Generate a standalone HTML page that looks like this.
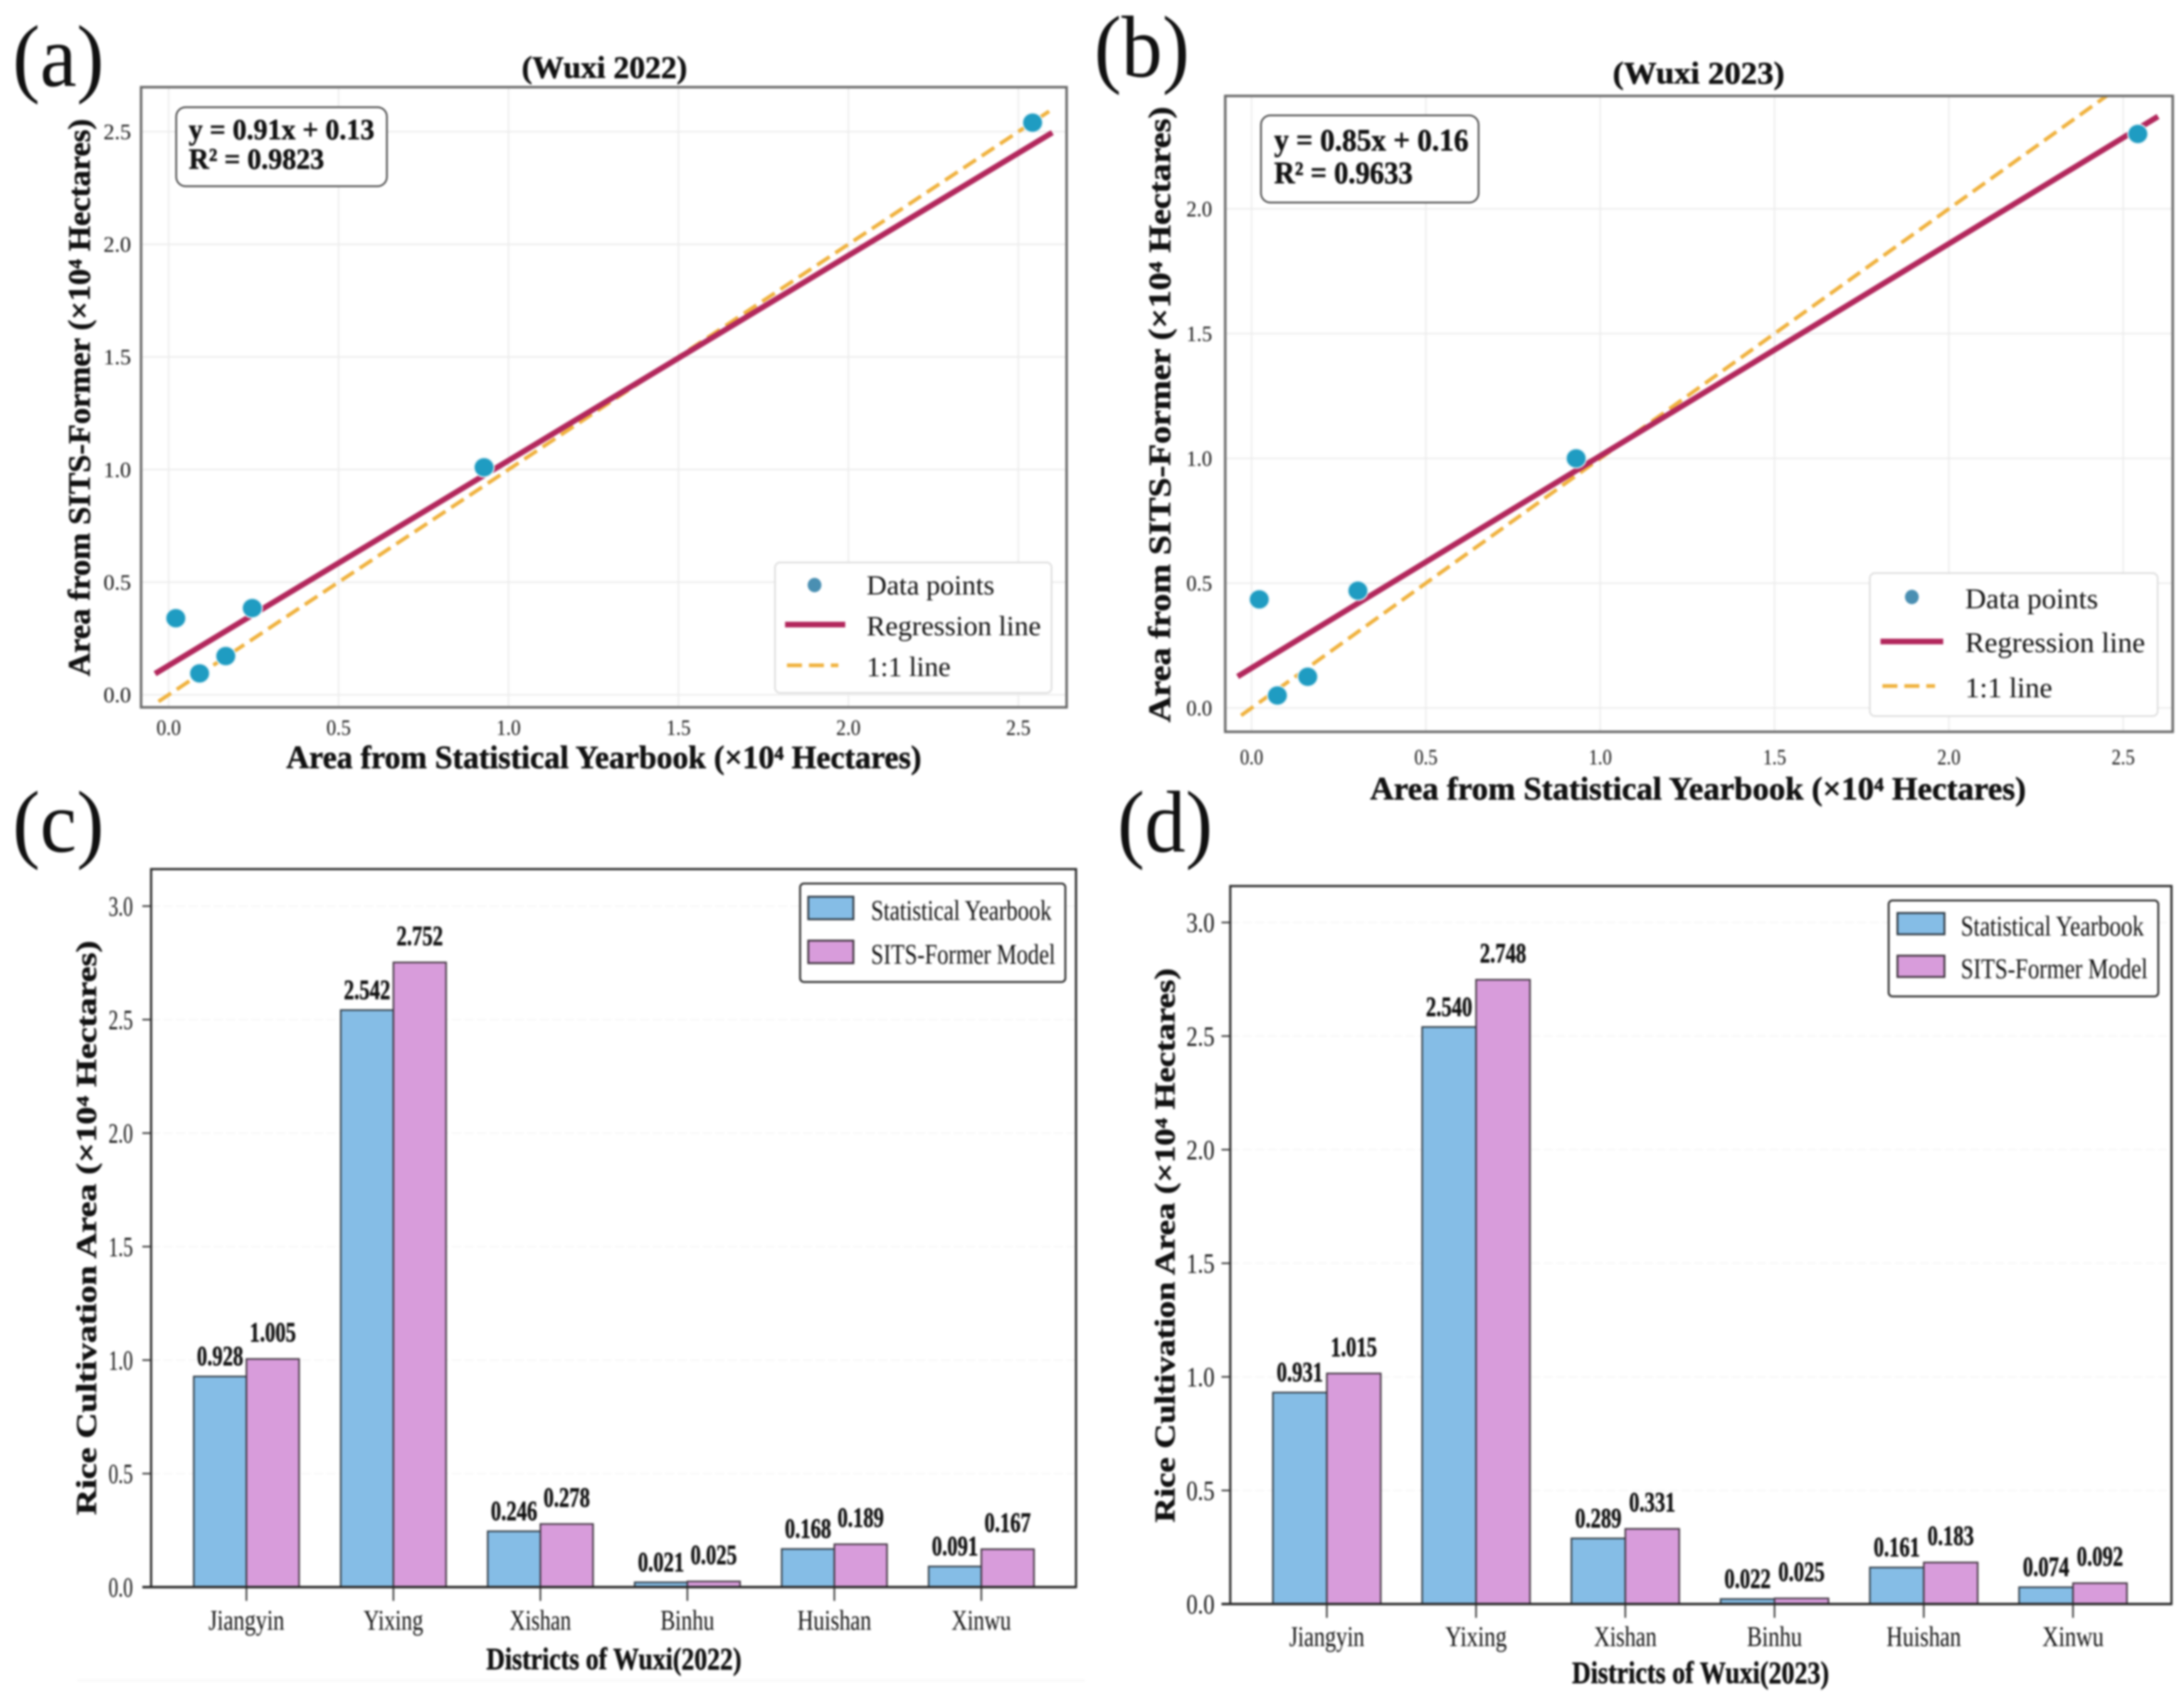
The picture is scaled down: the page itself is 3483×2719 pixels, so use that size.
<!DOCTYPE html>
<html lang="en">
<head>
<meta charset="utf-8">
<title>Wuxi rice cultivation area comparison</title>
<style>
html,body{margin:0;padding:0;background:#fff}
svg{display:block;filter:blur(1.6px)}
text{font-family:"Liberation Serif",serif;fill:#111}
text[font-weight="bold"]{stroke:#111;stroke-width:.7px}
</style>
</head>
<body>
<svg id="figure" xmlns="http://www.w3.org/2000/svg" width="3483" height="2719" viewBox="0 0 3483 2719">
  <defs>
    <clipPath id="clip-a"><rect x="225" y="139" width="1476" height="989"/></clipPath>
    <clipPath id="clip-b"><rect x="1954" y="153" width="1511" height="1014"/></clipPath>
  </defs>
  <rect x="0" y="0" width="3483" height="2719" fill="#fff"/>
  <line x1="123" y1="2680" x2="1730" y2="2680" stroke="#f7f7f7" stroke-width="3"/>
</svg>
<script>
// ---- Scatter data (×10⁴ hectares) ----
const scatterX2022 = [0.021, 0.091, 0.168, 0.246, 0.928, 2.542];
const scatterY2022 = [0.340, 0.095, 0.172, 0.385, 1.010, 2.540];
const scatterX2023 = [0.022, 0.074, 0.161, 0.305, 0.931, 2.542];
const scatterY2023 = [0.435, 0.050, 0.125, 0.470, 1.000, 2.300];
const fit2022 = [0.91, 0.13];
const fit2023 = [0.85, 0.16];
const fitRange = [-0.04, 2.6];
const identityRange = [-0.03, 2.6];
const stat2022 = ["y = 0.91x + 0.13", "R² = 0.9823"];
const stat2023 = ["y = 0.85x + 0.16", "R² = 0.9633"];
const scatterXTicks = [0, 0.5, 1, 1.5, 2, 2.5];
const scatterYTicks2022 = [0, 0.5, 1, 1.5, 2, 2.5];
const scatterYTicks2023 = [0, 0.5, 1, 1.5, 2];

// ---- Bar data (×10⁴ hectares) ----
const districts = ["Jiangyin", "Yixing", "Xishan", "Binhu", "Huishan", "Xinwu"];
const yearbook2022 = [0.928, 2.542, 0.246, 0.021, 0.168, 0.091];
const model2022 = [1.005, 2.752, 0.278, 0.025, 0.189, 0.167];
const yearbook2023 = [0.931, 2.540, 0.289, 0.022, 0.161, 0.074];
const model2023 = [1.015, 2.748, 0.331, 0.025, 0.183, 0.092];
const barYTicks = [0, 0.5, 1, 1.5, 2, 2.5, 3];
const legendScatter = ["Data points", "Regression line", "1:1 line"];
const legendBars = ["Statistical Yearbook", "SITS-Former Model"];

const NS = "http://www.w3.org/2000/svg";
const root = document.getElementById("figure");

function shape(parent, tag, name, attrs, interactable) {
  const el = document.createElementNS(NS, tag);
  for (const k in attrs) el.setAttribute(k, attrs[k]);
  
  
  parent.appendChild(el);
  return el;
}
function label(parent, name, str, x, y, o) {
  const a = {x: x, y: y, "font-size": o.size, "text-anchor": o.anchor || "start"};
  if (o.bold) a["font-weight"] = "bold";
  if (o.len) { a.textLength = o.len; a.lengthAdjust = "spacingAndGlyphs"; }
  if (o.rot) a.transform = "rotate(" + o.rot + " " + x + " " + y + ")";
  const el = shape(parent, "text", name, a, false);
  el.textContent = str;
  return el;
}
function group(name) {
  return shape(root, "g", name, {}, false);
}

function drawScatter(c, xs, ys, fit, yTicks, stat) {
  const g = group(c.id);
  const X = v => c.x0 + v * c.xu;
  const Y = v => c.y0 - v * c.yu;
  const f = c.frame;
  shape(g, "rect", "plot-area", {x: f[0], y: f[1], width: f[2] - f[0], height: f[3] - f[1], fill: "#fff"}, false);
  scatterXTicks.forEach(t => {
    shape(g, "line", "x-gridline", {x1: X(t), x2: X(t), y1: f[1], y2: f[3], stroke: "#ededed", "stroke-width": 2.5}, false);
    label(g, "x-tick-label", t.toFixed(1), X(t), c.xTickY, {size: 35, anchor: "middle", len: c.xTickW});
  });
  yTicks.forEach(t => {
    shape(g, "line", "y-gridline", {x1: f[0], x2: f[2], y1: Y(t), y2: Y(t), stroke: "#ededed", "stroke-width": 2.5}, false);
    label(g, "y-tick-label", t.toFixed(1), c.yTickR, Y(t) + 12, {size: 35, anchor: "end", len: c.yTickW});
  });
  const clip = shape(g, "g", "series-clip", {"clip-path": "url(#" + c.clip + ")"}, false);
  shape(clip, "line", "identity-line", {x1: X(identityRange[0]), y1: Y(identityRange[0]), x2: X(identityRange[1]), y2: Y(identityRange[1]), stroke: "#f0b23e", "stroke-width": 6, "stroke-dasharray": "24 11"}, false);
  shape(clip, "line", "regression-line", {x1: X(fitRange[0]), y1: Y(fit[0] * fitRange[0] + fit[1]), x2: X(fitRange[1]), y2: Y(fit[0] * fitRange[1] + fit[1]), stroke: "#b2275c", "stroke-width": 9}, false);
  xs.forEach((v, i) => {
    shape(clip, "ellipse", "data-point", {cx: X(v), cy: Y(ys[i]), rx: 16, ry: 15.5, fill: "#1f9cc2", stroke: "#e8f4f8", "stroke-width": 2}, false);
  });
  shape(g, "rect", "plot-frame", {x: f[0], y: f[1], width: f[2] - f[0], height: f[3] - f[1], fill: "none", stroke: "#6a6a6a", "stroke-width": 4}, false);
  label(g, "chart-title", c.title, c.titleX, c.titleY, {size: 50, bold: true, anchor: "middle", len: c.titleW});
  label(g, "x-axis-title", "Area from Statistical Yearbook (×10⁴ Hectares)", c.xlab[0], c.xlab[1], {size: 52, bold: true, anchor: "middle", len: c.xlab[2]});
  label(g, "y-axis-title", "Area from SITS-Former (×10⁴ Hectares)", c.ylab[0], c.ylab[1], {size: 50, bold: true, anchor: "middle", len: c.ylab[2], rot: -90});
  const s = c.stat;
  shape(g, "rect", "equation-box", {x: s.box[0], y: s.box[1], width: s.box[2] - s.box[0], height: s.box[3] - s.box[1], rx: 15, fill: "#fff", stroke: "#3a3a3a", "stroke-width": 2.5}, false);
  label(g, "equation-text", stat[0], s.x, s.y1, {size: s.size, bold: true, len: s.w1});
  label(g, "r-squared-text", stat[1], s.x, s.y2, {size: s.size, bold: true, len: s.w2});
  const l = c.legend;
  shape(g, "rect", "legend-box", {x: l.box[0], y: l.box[1], width: l.box[2] - l.box[0], height: l.box[3] - l.box[1], rx: 8, fill: "#fff", stroke: "#dcdcdc", "stroke-width": 2.5}, false);
  shape(g, "ellipse", "legend-marker-points", {cx: l.mx, cy: l.my, rx: 11, ry: 11.5, fill: "#4a8fb2"}, false);
  shape(g, "line", "legend-marker-regression", {x1: l.rl[0], x2: l.rl[1], y1: l.rl[2], y2: l.rl[2], stroke: "#b2275c", "stroke-width": 9}, false);
  shape(g, "line", "legend-marker-identity", {x1: l.dl[0], x2: l.dl[1], y1: l.dl[2], y2: l.dl[2], stroke: "#f0b23e", "stroke-width": 6, "stroke-dasharray": "24 11"}, false);
  legendScatter.forEach((t, i) => {
    label(g, "legend-entry", t, l.tx, l.ty[i], {size: l.size, len: l.tw[i]});
  });
}

function drawBars(c, a, b) {
  const g = group(c.id);
  const Y = v => c.y0 - v * c.yu;
  const X = i => c.cx0 + i * c.cs;
  const f = c.frame;
  barYTicks.forEach(t => {
    shape(g, "line", "y-gridline", {x1: f[0], x2: f[2], y1: Y(t), y2: Y(t), stroke: "#f7f7f7", "stroke-width": 2.5, "stroke-dasharray": "14 6"}, false);
    shape(g, "line", "y-tick", {x1: f[0] - 14, x2: f[0], y1: Y(t), y2: Y(t), stroke: "#333", "stroke-width": 2.5}, false);
    label(g, "y-tick-label", t.toFixed(1), c.yTickR, Y(t) + 15, {size: 44, anchor: "end", len: c.yTickW});
  });
  districts.forEach((d, i) => {
    const x = X(i);
    const h1 = a[i] * c.yu, h2 = b[i] * c.yu;
    shape(g, "rect", "bar-yearbook-" + d.toLowerCase(), {x: x - c.bw, y: c.y0 - h1, width: c.bw, height: h1, fill: "#85bde6", stroke: "#2f3a44", "stroke-width": 2.5}, false);
    shape(g, "rect", "bar-model-" + d.toLowerCase(), {x: x, y: c.y0 - h2, width: c.bw, height: h2, fill: "#d89cdb", stroke: "#40343f", "stroke-width": 2.5}, false);
    shape(g, "line", "x-tick", {x1: x, x2: x, y1: c.y0, y2: c.y0 + 22, stroke: "#333", "stroke-width": 2.5}, false);
    label(g, "x-tick-label", d, x, c.catY, {size: 46, anchor: "middle", len: c.catW[i]});
    label(g, "value-label-yearbook", a[i].toFixed(3), x - c.bw / 2, c.y0 - h1 - 18, {size: 44, bold: true, anchor: "middle", len: c.valW});
    label(g, "value-label-model", b[i].toFixed(3), x + c.bw / 2, c.y0 - h2 - 28, {size: 44, bold: true, anchor: "middle", len: c.valW});
  });
  shape(g, "rect", "plot-frame", {x: f[0], y: f[1], width: f[2] - f[0], height: f[3] - f[1], fill: "none", stroke: "#2a2a2a", "stroke-width": 3.5}, false);
  shape(g, "line", "zero-axis", {x1: f[0] - 14, x2: f[2], y1: c.y0, y2: c.y0, stroke: "#2a2a2a", "stroke-width": 4}, false);
  label(g, "x-axis-title", c.xlab[3], c.xlab[0], c.xlab[1], {size: 50, bold: true, anchor: "middle", len: c.xlab[2]});
  label(g, "y-axis-title", "Rice Cultivation Area (×10⁴ Hectares)", c.ylab[0], c.ylab[1], {size: 46, bold: true, anchor: "middle", len: c.ylab[2], rot: -90});
  const l = c.legend;
  shape(g, "rect", "legend-box", {x: l.box[0], y: l.box[1], width: l.box[2] - l.box[0], height: l.box[3] - l.box[1], rx: 6, fill: "#fff", stroke: "#2a2a2a", "stroke-width": 3}, false);
  shape(g, "rect", "legend-swatch-yearbook", {x: l.sx[0], y: l.sy[0], width: l.sx[1] - l.sx[0], height: l.sh, fill: "#85bde6", stroke: "#2f3a44", "stroke-width": 3}, false);
  shape(g, "rect", "legend-swatch-model", {x: l.sx[0], y: l.sy[1], width: l.sx[1] - l.sx[0], height: l.sh, fill: "#d89cdb", stroke: "#40343f", "stroke-width": 3}, false);
  legendBars.forEach((t, i) => {
    label(g, "legend-entry", t, l.tx, l.ty[i], {size: 46, len: l.tw[i]});
  });
}

// Panel letters
[["(a)", 20, 137, 146], ["(b)", 1745, 122, 152], ["(c)", 20, 1358, 146], ["(d)", 1782, 1358, 152]].forEach(p => {
  label(root, "panel-letter", p[0], p[1], p[2], {size: 140, len: p[3]});
});

drawScatter({
  id: "panel-a-scatter", clip: "clip-a", x0: 269, xu: 542, y0: 1108, yu: 359.2,
  frame: [225, 139, 1701, 1128], xTickY: 1172, xTickW: 39, yTickR: 209, yTickW: 44,
  title: "(Wuxi 2022)", titleX: 964, titleY: 124, titleW: 264,
  xlab: [963, 1225, 1013], ylab: [143, 634, 889],
  stat: {box: [281, 171, 617, 297], x: 301, y1: 222, y2: 269, size: 47, w1: 296, w2: 216},
  legend: {box: [1236, 897, 1677, 1105], mx: 1299, my: 933, rl: [1252, 1348, 996], dl: [1255, 1337, 1061], tx: 1382, ty: [948, 1013, 1078], tw: [204, 278, 134], size: 44}
}, scatterX2022, scatterY2022, fit2022, scatterYTicks2022, stat2022);

drawScatter({
  id: "panel-b-scatter", clip: "clip-b", x0: 1996, xu: 556, y0: 1129, yu: 398,
  frame: [1954, 153, 3465, 1167], xTickY: 1219, xTickW: 37, yTickR: 1933, yTickW: 41,
  title: "(Wuxi 2023)", titleX: 2709, titleY: 133, titleW: 274,
  xlab: [2708, 1275, 1046], ylab: [1866, 661, 982],
  stat: {box: [2011, 184, 2358, 323], x: 2032, y1: 240, y2: 292, size: 50, w1: 310, w2: 221},
  legend: {box: [2982, 914, 3441, 1142], mx: 3049, my: 952, rl: [2999, 3099, 1023], dl: [3002, 3086, 1094], tx: 3134, ty: [970, 1040, 1112], tw: [212, 287, 139], size: 46}
}, scatterX2023, scatterY2023, fit2023, scatterYTicks2023, stat2023);

drawBars({
  id: "panel-c-bars", y0: 2531, yu: 362, cx0: 393, cs: 234.4, bw: 84,
  frame: [241, 1386, 1716, 2531], yTickR: 212, yTickW: 39, catY: 2599,
  catW: [121, 95, 98, 86, 118, 95], valW: 74,
  xlab: [979, 2662, 407, "Districts of Wuxi(2022)"], ylab: [153, 1958, 916],
  legend: {box: [1276, 1409, 1699, 1566], sx: [1289, 1361], sy: [1430, 1500], sh: 36, tx: 1389, ty: [1467, 1537], tw: [288, 294]}
}, yearbook2022, model2022);

drawBars({
  id: "panel-d-bars", y0: 2558, yu: 362.3, cx0: 2116, cs: 238, bw: 86,
  frame: [1962, 1413, 3463, 2558], yTickR: 1937, yTickW: 45, catY: 2625,
  catW: [120, 98, 100, 88, 119, 98], valW: 74,
  xlab: [2712, 2684, 410, "Districts of Wuxi(2023)"], ylab: [1873, 1986, 884],
  legend: {box: [3012, 1436, 3442, 1589], sx: [3026, 3101], sy: [1456, 1524], sh: 34, tx: 3127, ty: [1492, 1560], tw: [292, 298]}
}, yearbook2023, model2023);
</script>
</body>
</html>
